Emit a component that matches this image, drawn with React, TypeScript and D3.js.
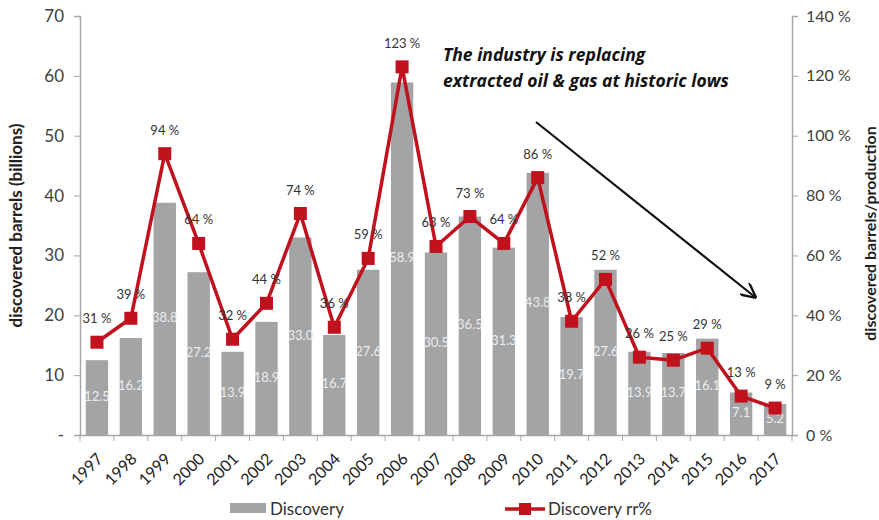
import { useEffect, useRef } from 'react';
import * as d3 from 'd3';

const years = ['1997', '1998', '1999', '2000', '2001', '2002', '2003', '2004', '2005', '2006', '2007',
  '2008', '2009', '2010', '2011', '2012', '2013', '2014', '2015', '2016', '2017'];
const discovery = [12.5, 16.2, 38.8, 27.2, 13.9, 18.9, 33.0, 16.7, 27.6, 58.9, 30.5,
  36.5, 31.3, 43.8, 19.7, 27.6, 13.9, 13.7, 16.1, 7.1, 5.2];
const replacementRate = [31, 39, 94, 64, 32, 44, 74, 36, 59, 123, 63,
  73, 64, 86, 38, 52, 26, 25, 29, 13, 9];
const leftTicks = [0, 10, 20, 30, 40, 50, 60, 70];
const rightTicks = [0, 20, 40, 60, 80, 100, 120, 140];
const noteLines = ['The industry is replacing', 'extracted oil & gas at historic lows'];

const FONT = 'Lato, "Open Sans", sans-serif';

function App() {
  const svgRef = useRef<SVGSVGElement | null>(null);

  useEffect(() => {
    if (!svgRef.current) return;
    const svg = d3.select(svgRef.current);
    svg.selectAll('*').remove();

    const left = 80;
    const right = 792;
    const top = 16;
    const bottom = 435;

    const x = d3.scaleBand().domain(years).range([left, right]).paddingInner(0.34).paddingOuter(0.17);
    const yLeft = d3.scaleLinear().domain([0, 70]).range([bottom, top]);
    const yRight = d3.scaleLinear().domain([0, 140]).range([bottom, top]);

    const axisColor = '#a6a6a6';
    const textColor = '#404040';

    // left axis
    const gl = svg.append('g').attr('transform', `translate(${left},0)`)
      .call(d3.axisLeft(yLeft).tickValues(leftTicks).tickSize(6).tickPadding(10)
        .tickFormat((d) => (d === 0 ? '-' : String(d))));
    gl.select('.domain').attr('stroke', axisColor).attr('stroke-width', 1.5);
    gl.selectAll('.tick line').attr('stroke', axisColor);
    gl.selectAll('.tick text').attr('font-size', 17).attr('fill', textColor).attr('font-family', FONT);

    // right axis
    const gr = svg.append('g').attr('transform', `translate(${right},0)`)
      .call(d3.axisRight(yRight).tickValues(rightTicks).tickSize(6).tickPadding(8)
        .tickFormat((d) => `${d} %`));
    gr.select('.domain').attr('stroke', axisColor).attr('stroke-width', 1.5);
    gr.selectAll('.tick line').attr('stroke', axisColor);
    gr.selectAll('.tick text').attr('font-size', 16).attr('fill', textColor).attr('font-family', FONT);

    // x axis
    const gx = svg.append('g').attr('transform', `translate(0,${bottom})`)
      .call(d3.axisBottom(x).tickSize(0).tickPadding(10));
    gx.select('.domain').attr('stroke', axisColor).attr('stroke-width', 1.5);
    // category separator ticks
    const step = x.step();
    years.concat(['end']).forEach((_, i) => {
      gx.append('line')
        .attr('x1', left + i * step).attr('x2', left + i * step)
        .attr('y1', 0).attr('y2', 6)
        .attr('stroke', axisColor);
    });
    gx.selectAll('.tick text')
      .attr('font-size', 16).attr('fill', '#222').attr('font-family', FONT)
      .attr('text-anchor', 'end')
      .attr('x', 0).attr('y', 0).attr('dx', 0).attr('dy', '0.35em')
      .attr('transform', 'translate(3,21) rotate(-45)');

    // bars
    svg.append('g').selectAll('rect').data(discovery).join('rect')
      .attr('x', (_, i) => x(years[i])!)
      .attr('y', (d) => yLeft(d))
      .attr('width', x.bandwidth())
      .attr('height', (d) => bottom - yLeft(d))
      .attr('fill', '#a3a4a6');

    // bar value labels
    svg.append('g').selectAll('text').data(discovery).join('text')
      .attr('x', (_, i) => x(years[i])! + x.bandwidth() / 2)
      .attr('y', (d) => (yLeft(d) + bottom) / 2)
      .attr('text-anchor', 'middle')
      .attr('dominant-baseline', 'middle')
      .attr('font-size', 13)
      .attr('font-family', FONT)
      .attr('fill', '#ececec')
      .text((d) => d.toFixed(1));

    // rr% line
    const cx = (i: number) => x(years[i])! + x.bandwidth() / 2;
    const line = d3.line<number>().x((_, i) => cx(i)).y((d) => yRight(d));
    const red = '#c0111d';
    svg.append('path')
      .datum(replacementRate)
      .attr('d', line)
      .attr('fill', 'none')
      .attr('stroke', red)
      .attr('stroke-width', 3.5)
      .attr('stroke-linejoin', 'round');

    const m = 13;
    svg.append('g').selectAll('rect').data(replacementRate).join('rect')
      .attr('x', (_, i) => cx(i) - m / 2)
      .attr('y', (d) => yRight(d) - m / 2)
      .attr('width', m)
      .attr('height', m)
      .attr('fill', red);

    svg.append('g').selectAll('text').data(replacementRate).join('text')
      .attr('x', (_, i) => cx(i))
      .attr('y', (d) => yRight(d) - 19)
      .attr('text-anchor', 'middle')
      .attr('font-size', 13)
      .attr('font-family', FONT)
      .attr('fill', '#333')
      .text((d) => `${d} %`);

    // axis titles
    svg.append('text')
      .attr('transform', `translate(22,${(top + bottom) / 2}) rotate(-90)`)
      .attr('text-anchor', 'middle')
      .attr('font-size', 17).attr('font-weight', 'bold')
      .attr('font-family', FONT).attr('fill', '#222')
      .text('discovered barrels (billions)');
    svg.append('text')
      .attr('transform', `translate(876,${(top + bottom) / 2 + 8}) rotate(-90)`)
      .attr('text-anchor', 'middle')
      .attr('font-size', 16).attr('font-weight', 'bold')
      .attr('font-family', FONT).attr('fill', '#222')
      .text('discovered barrels/production');

    // annotation
    svg.append('g').selectAll('text').data(noteLines).join('text')
      .attr('x', 443)
      .attr('y', (_, i) => 61 + i * 26)
      .attr('font-size', 17.5).attr('font-weight', 'bold').attr('font-style', 'italic')
      .attr('font-family', '"Open Sans", Lato, sans-serif').attr('fill', '#111')
      .text((d) => d);

    const defs = svg.append('defs');
    defs.append('marker')
      .attr('id', 'arrowhead')
      .attr('viewBox', '0 0 10 10')
      .attr('refX', 9).attr('refY', 5)
      .attr('markerWidth', 7).attr('markerHeight', 7)
      .attr('orient', 'auto')
      .append('path')
      .attr('d', 'M0,0 L10,5 L0,10')
      .attr('fill', 'none').attr('stroke', '#111').attr('stroke-width', 1.5);
    svg.append('line')
      .attr('x1', 536).attr('y1', 122)
      .attr('x2', 755).attr('y2', 297)
      .attr('stroke', '#111').attr('stroke-width', 2.2)
      .attr('marker-end', 'url(#arrowhead)');

    // legend
    const lg = svg.append('g');
    lg.append('rect').attr('x', 230).attr('y', 503).attr('width', 36).attr('height', 10).attr('fill', '#a3a4a6');
    lg.append('text').attr('x', 270).attr('y', 515)
      .attr('font-size', 17).attr('font-family', FONT).attr('fill', '#333').text('Discovery');
    lg.append('line').attr('x1', 505).attr('x2', 545).attr('y1', 509).attr('y2', 509)
      .attr('stroke', red).attr('stroke-width', 3.5);
    lg.append('rect').attr('x', 519).attr('y', 503).attr('width', 12).attr('height', 12).attr('fill', red);
    lg.append('text').attr('x', 548).attr('y', 515)
      .attr('font-size', 17).attr('font-family', FONT).attr('fill', '#333').text('Discovery rr%');

    return () => {
      svg.selectAll('*').remove();
    };
  }, []);

  return (
    <svg ref={svgRef} width={879} height={520}
      style={{ position: 'absolute', left: 0, top: 0, background: '#fff' }} />
  );
}

export default App;
